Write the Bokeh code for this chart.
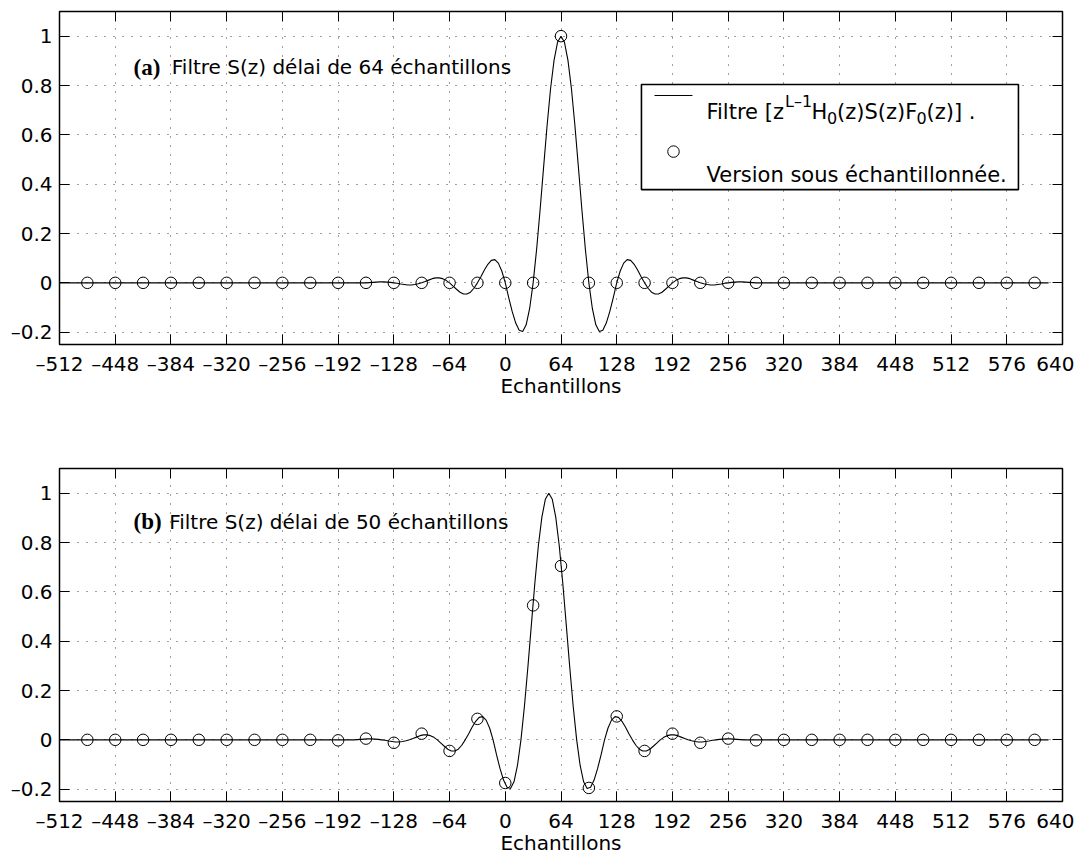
from bokeh.plotting import figure
from bokeh.layouts import column
from bokeh.models import FixedTicker, LinearAxis, Range1d, Label, BoxAnnotation
from bokeh.embed import file_html
from bokeh.resources import INLINE

# ---------------- data ----------------
x_ticks = [-512, -448, -384, -320, -256, -192, -128, -64, 0, 64, 128, 192, 256,
           320, 384, 448, 512, 576, 640]
x_tick_labels = ["\u2013512", "\u2013448", "\u2013384", "\u2013320", "\u2013256", "\u2013192",
                 "\u2013128", "\u201364", "0", "64", "128", "192", "256", "320", "384",
                 "448", "512", "576", "640"]
y_ticks = [-0.2, 0.0, 0.2, 0.4, 0.6, 0.8, 1.0]
y_tick_labels = ["\u20130.2", "0", "0.2", "0.4", "0.6", "0.8", "1"]

# impulse response of the filter, read every 4 samples around its peak
filter_offsets = list(range(-224, 228, 4))
filter_values = [
    0.000, 0.001, 0.002, 0.003, 0.004, 0.004, 0.003, 0.002,
    0.000, -0.002, -0.005, -0.007, -0.009, -0.009, -0.007, -0.004,
    0.000, 0.005, 0.011, 0.017, 0.020, 0.020, 0.017, 0.010,
    0.000, -0.013, -0.026, -0.038, -0.045, -0.045, -0.038, -0.022,
    0.000, 0.025, 0.052, 0.075, 0.091, 0.094, 0.080, 0.048,
    0.000, -0.061, -0.117, -0.163, -0.192, -0.197, -0.170, -0.104,
    0.000, 0.136, 0.296, 0.468, 0.637, 0.787, 0.902, 0.975,
    1.000,
    0.975, 0.902, 0.787, 0.637, 0.468, 0.296, 0.136, 0.000,
    -0.104, -0.170, -0.197, -0.192, -0.163, -0.117, -0.061, 0.000,
    0.048, 0.080, 0.094, 0.091, 0.075, 0.052, 0.025, 0.000,
    -0.022, -0.038, -0.045, -0.045, -0.038, -0.026, -0.013, 0.000,
    0.010, 0.017, 0.020, 0.020, 0.017, 0.011, 0.005, 0.000,
    -0.004, -0.007, -0.009, -0.009, -0.007, -0.005, -0.002, 0.000,
    0.002, 0.003, 0.004, 0.004, 0.003, 0.002, 0.001, 0.000,
]
assert len(filter_offsets) == len(filter_values)
curve_start, curve_end = -512, 624
delay_a, delay_b = 64, 50

sample_x = list(range(-480, 609, 32))
samples_a = [0, 0, 0, 0, 0, 0, 0, 0, 0,
             0, 0, 0, 0, 0, 0,
             0, 0, 1.0, 0, 0, 0, 0, 0, 0, 0,
             0, 0, 0, 0, 0, 0, 0, 0, 0, 0]
samples_b = [0, 0, 0, 0, 0, 0, 0, 0, 0,
             -0.002, 0.005, -0.012, 0.025, -0.045, 0.085,
             -0.175, 0.545, 0.705, -0.195, 0.095, -0.045, 0.025, -0.012, 0.005, -0.002,
             0, 0, 0, 0, 0, 0, 0, 0, 0, 0]

FONT = "DejaVu Sans"
TICK_SIZE = "20px"
TEXT_SIZE = "20px"


def make_panel(delay, samples, tag, desc, border_top, border_bottom, text_y, desc_x):
    p = figure(x_range=Range1d(-512, 640), y_range=Range1d(-0.25, 1.1),
               frame_width=1003, frame_height=333,
               min_border_left=59, min_border_right=12,
               min_border_top=border_top, min_border_bottom=border_bottom,
               output_backend="svg", toolbar_location=None,
               background_fill_color="white", border_fill_color="white")
    p.outline_line_color = "black"
    p.outline_line_width = 1.5
    p.outline_line_alpha = 1.0

    xt = FixedTicker(ticks=x_ticks)
    yt = FixedTicker(ticks=y_ticks)
    xa = p.xaxis[0]
    ya = p.yaxis[0]
    xa.ticker = xt
    ya.ticker = yt
    xa.major_label_overrides = dict(zip(x_ticks, x_tick_labels))
    ya.major_label_overrides = dict(zip(y_ticks, y_tick_labels))
    for ax in (xa, ya):
        ax.major_tick_in = 10
        ax.major_tick_out = 0
        ax.minor_tick_in = 0
        ax.minor_tick_out = 0
        ax.axis_line_color = None
        ax.major_tick_line_color = "black"
        ax.major_label_text_font = FONT
        ax.major_label_text_font_size = TICK_SIZE
        ax.major_label_text_color = "black"
        ax.major_label_standoff = 7
    xa.axis_label = "Echantillons"
    xa.axis_label_text_font = FONT
    xa.axis_label_text_font_size = TEXT_SIZE
    xa.axis_label_text_font_style = "normal"
    xa.axis_label_text_color = "black"
    xa.axis_label_standoff = -5

    # ticks on the top and right sides of the box
    top = LinearAxis(ticker=FixedTicker(ticks=x_ticks),
                     major_label_overrides={t: "" for t in x_ticks})
    right = LinearAxis(ticker=FixedTicker(ticks=y_ticks),
                       major_label_overrides={t: "" for t in y_ticks})
    for ax in (top, right):
        ax.major_tick_in = 10
        ax.major_tick_out = 0
        ax.minor_tick_in = 0
        ax.minor_tick_out = 0
        ax.axis_line_color = None
        ax.major_tick_line_color = "black"
        ax.major_label_text_font_size = "0px"
        ax.major_label_standoff = 0
    p.add_layout(top, "above")
    p.add_layout(right, "right")

    for g in (p.xgrid[0], p.ygrid[0]):
        g.grid_line_color = "black"
        g.grid_line_alpha = 0.75
        g.grid_line_dash = "1 8"
        g.grid_line_width = 1
    p.xgrid[0].ticker = xt
    p.ygrid[0].ticker = yt

    cx = [curve_start] + [o + delay for o in filter_offsets] + [curve_end]
    cy = [0.0] + filter_values + [0.0]
    p.line(cx, cy, line_color="black", line_width=1.1)
    p.scatter(sample_x, samples, marker="circle", size=11.5,
              fill_color=None, line_color="black", line_width=1)

    p.add_layout(Label(x=-427, y=text_y, text=tag, text_font="Liberation Serif",
                       text_font_style="bold", text_font_size="23px",
                       text_color="black", text_baseline="alphabetic"))
    p.add_layout(Label(x=desc_x, y=text_y, text=desc, text_font=FONT,
                       text_font_size=TEXT_SIZE, text_color="black",
                       text_baseline="alphabetic"))
    return p


p1 = make_panel(delay_a, samples_a, "(a)", "Filtre S(z) d\u00e9lai de 64 \u00e9chantillons",
                11, 64, 0.875, -383)
p2 = make_panel(delay_b, samples_b, "(b)", "Filtre S(z) d\u00e9lai de 50 \u00e9chantillons",
                60, 56, 0.885, -386)

# ---------------- legend of panel (a) ----------------
leg_box = BoxAnnotation(left=156.4, right=589.4, bottom=0.378, top=0.804,
                        fill_color="white", fill_alpha=1.0,
                        line_color="black", line_alpha=1.0, line_width=1.6,
                        level="underlay")
p1.add_layout(leg_box)
p1.line([171.4, 215.0], [0.7595, 0.7595], line_color="black", line_width=1)
p1.scatter([193.2], [0.532], marker="circle", size=11.5, fill_color=None,
           line_color="black", line_width=1)

leg_x, leg_y = 231.1, 0.693
pieces = [  # text, x offset (px), y offset (px), size
    ("Filtre [z", 0, 0, "21px"),
    ("L\u20131", 78.5, 10, "16px"),
    ("H", 105.0, 0, "21px"),
    ("0", 120.5, -6, "16px"),
    ("(z)S(z)F", 130.5, 0, "21px"),
    ("0", 210.0, -6, "16px"),
    ("(z)] .", 220.0, 0, "21px"),
]
for txt, dx, dy, sz in pieces:
    p1.add_layout(Label(x=leg_x, y=leg_y, x_offset=dx, y_offset=dy, text=txt,
                        text_font=FONT, text_font_size=sz, text_color="black",
                        text_baseline="alphabetic"))
p1.add_layout(Label(x=leg_x, y=0.436, text="Version sous \u00e9chantillonn\u00e9e.",
                    text_font=FONT, text_font_size="21px", text_color="black",
                    text_baseline="alphabetic"))

layout = column(p1, p2, spacing=0)
open("out.html", "w").write(file_html(layout, INLINE))
